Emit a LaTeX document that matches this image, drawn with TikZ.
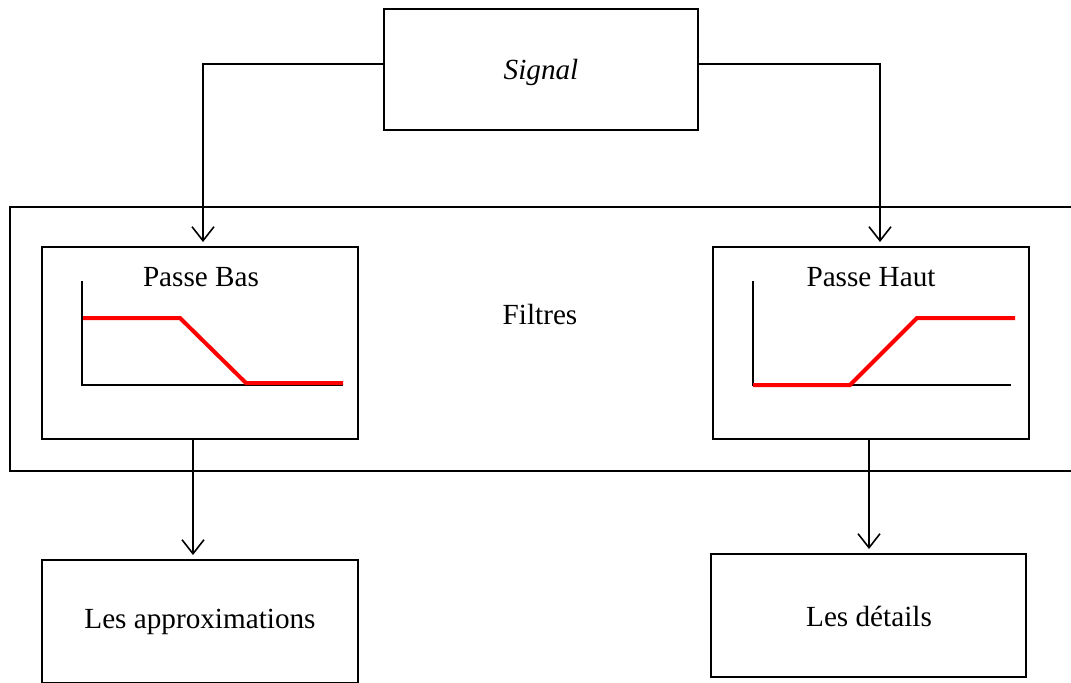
\documentclass[tikz,border=0pt]{standalone}
\usepackage{fontspec}
\setmainfont{Liberation Serif}
\usetikzlibrary{calc,positioning,arrows.meta}

\begin{document}
\begin{tikzpicture}[x=0.5pt,y=-0.5pt,
  box/.style={draw, black, line width=1pt, rectangle, inner sep=0pt},
  arr/.style={-{Straight Barb[length=7pt,width=11pt]}, line width=0.8pt, shorten >=2pt},
  axe/.style={black, line width=0.8pt},
  rouge/.style={red, line width=2pt},
  lbl/.style={font=\fontsize{14.6}{17}\selectfont}]
\useasboundingbox (0,0) rectangle (1071,682);

\node[box, minimum width=157pt, minimum height=60.5pt] (signal) at (541,69.5) {};
\node[lbl] (signaltxt) at (541,72) {\itshape Signal};

\node[box, line width=0.8pt, minimum width=535pt, minimum height=132pt] (filtres) at (545,339) {};
\node[lbl] (filtrestxt) at (540,314) {Filtres};

\node[box, minimum width=158pt, minimum height=96pt] (passebas) at (200,343) {};
\node[lbl] (passebastxt) at (201,277) {Passe Bas};
\node[box, minimum width=158pt, minimum height=96pt] (passehaut) at (871,343) {};
\node[lbl] (passehauttxt) at (871,277) {Passe Haut};

\node[box, minimum width=158pt, minimum height=61.5pt] (approx) at (200,621.5) {};
\node[lbl] (approxtxt) at (200,622) {Les approximations};
\node[box, minimum width=157.5pt, minimum height=61.5pt] (details) at (868.5,615.5) {};
\node[lbl] (detailstxt) at (869,616) {Les d\'etails};

% courbes des filtres
\draw[axe] (82,281) -- (82,385) -- (343,385);
\draw[rouge] (83,318) -- (180,318) -- (246,383) -- (343,383);
\draw[axe] (753,281) -- (753,385) -- (1011,385);
\draw[rouge] (753,385) -- (850,385) -- (917,318) -- (1015,318);

\draw[arr] ($(signal.west)+(0,-5.5)$) -| ($(passebas.north)+(3,0)$);
\draw[arr] ($(signal.east)+(0,-5.5)$) -| ($(passehaut.north)+(9,0)$);
\draw[arr] ($(passebas.south)+(-7,0)$) -- ($(approx.north)+(-7,0)$);
\draw[arr] ($(passehaut.south)+(-2,0)$) -- ($(details.north)+(0.5,0)$);
\end{tikzpicture}
\end{document}
